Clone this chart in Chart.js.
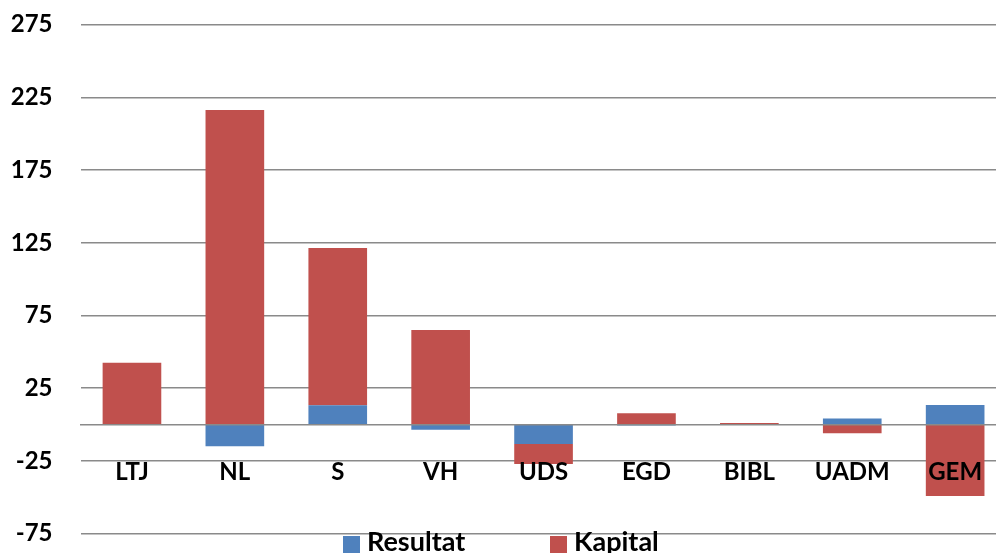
<!DOCTYPE html>
<html>
<head>
<meta charset="utf-8">
<script src="https://cdn.jsdelivr.net/npm/chart.js@4/dist/chart.umd.min.js"></script>
<style>
  html, body { margin: 0; padding: 0; background: #fff; overflow: hidden; }
  #wrap { position: relative; width: 1008px; height: 553px; }
  #legend { position: absolute; left: 343px; top: 527px; display: flex; font: bold 27px Lato, sans-serif; line-height: 27px; color: #000; }
  #legend .item { display: flex; align-items: flex-start; }
  #legend .item:first-child { width: 207px; }
  #legend .box { width: 17px; height: 17px; margin: 9px 7px 0 0; }
</style>
</head>
<body>
<div id="wrap">
  <canvas id="chart"></canvas>
  <div id="legend"></div>
</div>
<script>
// ---------- data ----------
const categories = ["LTJ", "NL", "S", "VH", "UDS", "EGD", "BIBL", "UADM", "GEM"];
const resultat = [0, -14.8, 13.3, -3.6, -13.3, -0.6, 0, 4.3, 13.5];
const kapital  = [42.6, 216.3, 108.1, 65.0, -13.7, 7.8, 1.1, -6.0, -49.0];
const yTicks = [-75, -25, 25, 75, 125, 175, 225, 275];

const BLUE = "#4F81BD";
const RED = "#C0504D";
const GRID = "#8a8a8a";
const FONT = { family: "Lato, sans-serif", size: 24, weight: "bold" };

// html legend, built from the chart's datasets
const htmlLegend = {
  id: "htmlLegend",
  afterUpdate(chart){
    const box = document.getElementById("legend");
    box.innerHTML = "";
    chart.data.datasets.forEach(ds => {
      const item = document.createElement("div");
      item.className = "item";
      const sq = document.createElement("span");
      sq.className = "box";
      sq.style.background = ds.backgroundColor;
      const txt = document.createElement("span");
      txt.textContent = ds.label;
      item.appendChild(sq); item.appendChild(txt);
      box.appendChild(item);
    });
  }
};

// the tick paddings would otherwise shrink the plot area
function noScalePadding(scale){
  scale.paddingTop = 0; scale.paddingBottom = 0;
  scale.paddingLeft = 0; scale.paddingRight = 0;
}

new Chart(document.getElementById("chart"), {
  type: "bar",
  data: {
    labels: categories,
    datasets: [
      { label: "Resultat", data: resultat, backgroundColor: BLUE, borderWidth: 0 },
      { label: "Kapital", data: kapital, backgroundColor: RED, borderWidth: 0 }
    ]
  },
  options: {
    responsive: true,
    maintainAspectRatio: false,
    animation: false,
    layout: { padding: { left: 0, right: 1.4, top: 24.7, bottom: 19.3 } },
    datasets: { bar: { barPercentage: 0.57, categoryPercentage: 1 } },
    plugins: { legend: { display: false }, tooltip: { enabled: false } },
    scales: {
      x: {
        stacked: true,
        position: { y: 0 },
        afterFit: noScalePadding,
        grid: { display: false, drawTicks: false },
        border: { display: true, color: GRID, width: 1.6, z: 1 },
        ticks: { color: "#000", font: FONT, padding: 33, maxRotation: 0, autoSkip: false, z: 1 }
      },
      y: {
        stacked: true,
        min: -75,
        max: 275,
        afterBuildTicks(scale){ scale.ticks = yTicks.map(v => ({ value: v })); },
        afterFit(scale){ noScalePadding(scale); scale.width = 80.5; },
        grid: { color: GRID, lineWidth: 1.6, drawTicks: false },
        border: { display: false },
        ticks: { color: "#000", font: FONT, padding: 28 }
      }
    }
  },
  plugins: [htmlLegend]
});
</script>
</body>
</html>
